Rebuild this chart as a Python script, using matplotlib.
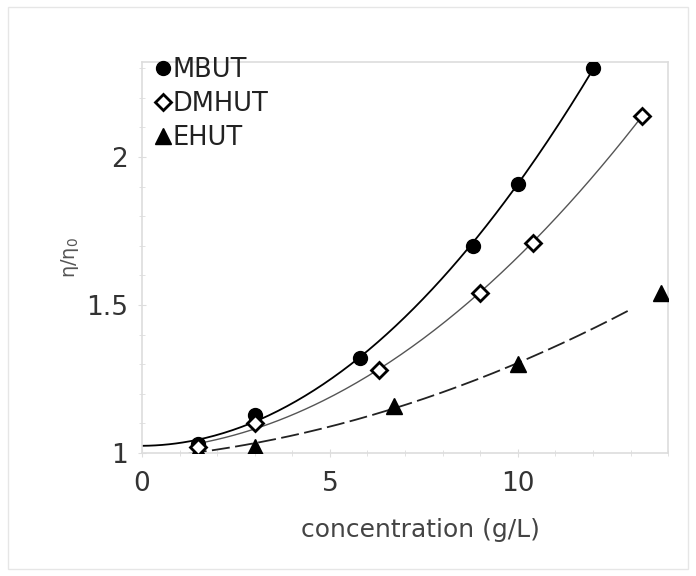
import numpy as np
import matplotlib
matplotlib.use('Agg')
import matplotlib.pyplot as plt
from matplotlib.ticker import MultipleLocator
from matplotlib.patches import Rectangle

# data
mbut_x = [1.5, 3.0, 5.8, 8.8, 10.0, 12.0]
mbut_y = [1.03, 1.13, 1.32, 1.70, 1.91, 2.30]
dmhut_x = [1.5, 3.0, 6.3, 9.0, 10.4, 13.3]
dmhut_y = [1.02, 1.10, 1.28, 1.54, 1.71, 2.14]
# first EHUT point sits under the other markers at 1.5
ehut_x = [1.5, 3.0, 6.7, 10.0, 13.8]
ehut_y = [1.01, 1.02, 1.16, 1.30, 1.54]

x_ticks = [0, 5, 10]
y_ticks = [1, 1.5, 2]
y_tick_labels = ['1', '1.5', '2']

fig = plt.figure(figsize=(6.96, 5.76), dpi=100)
fig.patches.append(Rectangle((0.012, 0.012), 0.976, 0.976, transform=fig.transFigure,
                             fill=False, edgecolor='#e6e6e6', lw=1.0))
ax = fig.add_axes([0.204, 0.2135, 0.756, 0.6785])

# polynomial trendlines (order 2) from the data
def trend(xs, ys, x0, x1):
    c = np.polyfit(xs, ys, 2)
    xx = np.linspace(x0, x1, 200)
    return xx, np.polyval(c, xx)

tx, ty = trend(mbut_x, mbut_y, 0, mbut_x[-1])
ax.plot(tx, ty, color='black', lw=1.3, zorder=2)
tx, ty = trend(dmhut_x, dmhut_y, dmhut_x[0], dmhut_x[-1])
ax.plot(tx, ty, color='#555555', lw=1.0, zorder=2)
tx, ty = trend(ehut_x, ehut_y, 0, 13.0)
ax.plot(tx, ty, color='#222222', lw=1.3, dashes=(10, 3), zorder=2)

ax.plot(ehut_x, ehut_y, '^', color='black', ms=11, ls='none', label='EHUT', zorder=3)
ax.plot(mbut_x, mbut_y, 'o', color='black', ms=10, ls='none', label='MBUT', zorder=4)
ax.plot(dmhut_x, dmhut_y, 'D', mfc='white', mec='black', mew=2, ms=8.5, ls='none',
        label='DMHUT', zorder=5)

ax.set_xlim(0, 14)
ax.set_ylim(1, 2.32)
ax.set_xticks(x_ticks)
ax.set_yticks(y_ticks)
ax.set_yticklabels(y_tick_labels)
ax.xaxis.set_minor_locator(MultipleLocator(1))
ax.yaxis.set_minor_locator(MultipleLocator(0.1))
for s in ax.spines.values():
    s.set_color('#dddddd')
    s.set_linewidth(1.2)
ax.tick_params(which='both', colors='#dddddd', direction='inout')
ax.tick_params(which='major', length=6, labelcolor='#333333', labelsize=19)
ax.tick_params(axis='y', which='major', pad=7)
ax.tick_params(axis='x', which='major', pad=10)
ax.tick_params(which='minor', length=4)

ax.set_xlabel('concentration (g/L)', fontsize=18, color='#444444')
ax.xaxis.set_label_coords(0.53, -0.165)
ax.set_ylabel('η/η$_0$', fontsize=14, color='#555555', labelpad=4)

handles, labels = ax.get_legend_handles_labels()
order = [1, 2, 0]
ax.legend([handles[i] for i in order], [labels[i] for i in order],
          loc='upper left', bbox_to_anchor=(0.0, 1.045), frameon=False, fontsize=18.5,
          handlelength=0.6, handletextpad=0.1, labelspacing=0.3, borderaxespad=0.1,
          labelcolor='#222222')

fig.savefig('out.png', dpi=100)
